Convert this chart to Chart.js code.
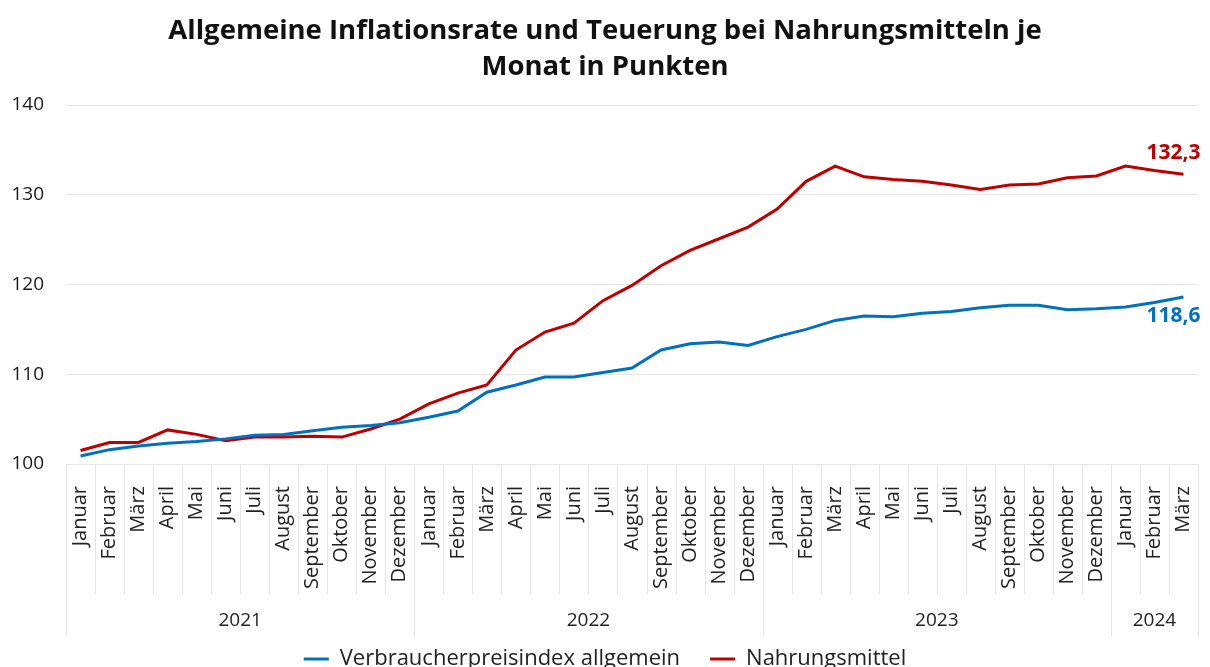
<!DOCTYPE html>
<html lang="de">
<head>
<meta charset="utf-8">
<script src="https://cdn.jsdelivr.net/npm/chart.js@4.4.1/dist/chart.umd.min.js"></script>
<style>
  html, body { margin: 0; padding: 0; background: #fff; overflow: hidden; }
  #wrap { width: 1210px; height: 680px; }
</style>
</head>
<body>
<div id="wrap"><canvas id="chart"></canvas></div>
<script>
const monthNames = ['Januar', 'Februar', 'März', 'April', 'Mai', 'Juni', 'Juli',
    'August', 'September', 'Oktober', 'November', 'Dezember'];
const years = ['2021', '2022', '2023', '2024'];
const monthsPerYear = [12, 12, 12, 3];

// Verbraucherpreisindex allgemein, Jan 2021 - Mär 2024
const vpi = [100.9, 101.6, 102.0, 102.3, 102.5, 102.8, 103.2, 103.3, 103.7, 104.1, 104.3, 104.6,
    105.2, 105.9, 108.0, 108.8, 109.7, 109.7, 110.2, 110.7, 112.7, 113.4, 113.6, 113.2,
    114.2, 115.0, 116.0, 116.5, 116.4, 116.8, 117.0, 117.4, 117.7, 117.7, 117.2, 117.3,
    117.5, 118.0, 118.6];
// Nahrungsmittel
const food = [101.5, 102.4, 102.4, 103.8, 103.3, 102.6, 103.0, 103.0, 103.1, 103.0, 103.9, 105.0,
    106.7, 107.9, 108.8, 112.7, 114.7, 115.7, 118.2, 119.9, 122.1, 123.8, 125.1, 126.4,
    128.4, 131.5, 133.2, 132.0, 131.7, 131.5, 131.1, 130.6, 131.1, 131.2, 131.9, 132.1,
    133.2, 132.7, 132.3];

const labels = [];
monthsPerYear.forEach(n => labels.push(...monthNames.slice(0, n)));

const FONT = '"Open Sans", "Noto Sans", sans-serif';
const labelOffsets = [19, -21];

// value labels at the last point of each line
const endLabels = {
    id: 'endLabels',
    afterDatasetsDraw(chart) {
        const ctx = chart.ctx;
        chart.data.datasets.forEach((ds, i) => {
            const meta = chart.getDatasetMeta(i);
            const pt = meta.data[meta.data.length - 1];
            const v = ds.data[ds.data.length - 1];
            ctx.save();
            ctx.font = 'bold 21px ' + FONT;
            ctx.fillStyle = ds.borderColor;
            ctx.textAlign = 'right';
            ctx.textBaseline = 'middle';
            ctx.fillText(v.toFixed(1).replace('.', ','), pt.x + 17, pt.y + labelOffsets[i]);
            ctx.restore();
        });
    }
};

// month separators + year row under the month labels
const yearAxis = {
    id: 'yearAxis',
    afterDraw(chart) {
        const x = chart.scales.x;
        const ctx = chart.ctx;
        const top = chart.chartArea.bottom;
        const half = (x.getPixelForValue(1) - x.getPixelForValue(0)) / 2;
        ctx.save();
        ctx.strokeStyle = '#e4e4e4';
        ctx.lineWidth = 1;
        let start = 0;
        const yearStarts = [0];
        monthsPerYear.forEach(n => { start += n; yearStarts.push(start); });
        for (let i = 0; i <= labels.length; i++) {
            const px = Math.round(x.getPixelForValue(i) - half) + 0.5;
            const isYear = yearStarts.includes(i);
            ctx.beginPath();
            ctx.moveTo(px, top);
            ctx.lineTo(px, isYear ? top + 172 : top + 130);
            ctx.stroke();
        }
        ctx.font = '19px ' + FONT;
        ctx.fillStyle = '#222';
        ctx.textAlign = 'center';
        ctx.textBaseline = 'middle';
        years.forEach((y, k) => {
            const a = x.getPixelForValue(yearStarts[k]) - half;
            const b = x.getPixelForValue(yearStarts[k + 1] - 1) + half;
            ctx.fillText(y, (a + b) / 2, top + 157);
        });
        ctx.restore();
    }
};

new Chart(document.getElementById('chart'), {
    type: 'line',
    data: {
        labels: labels,
        datasets: [{
            label: 'Verbraucherpreisindex allgemein',
            data: vpi,
            borderColor: '#0070c0',
            backgroundColor: '#0070c0',
            borderWidth: 3,
            pointRadius: 0,
            tension: 0
        }, {
            label: 'Nahrungsmittel',
            data: food,
            borderColor: '#c00000',
            backgroundColor: '#c00000',
            borderWidth: 3,
            pointRadius: 0,
            tension: 0
        }]
    },
    options: {
        responsive: true,
        maintainAspectRatio: false,
        animation: false,
        layout: { padding: 0 },
        plugins: {
            title: {
                display: true,
                text: ['Allgemeine Inflationsrate und Teuerung bei Nahrungsmitteln je', 'Monat in Punkten'],
                color: '#111',
                font: { family: FONT, size: 27.5, weight: 'bold', lineHeight: 1.31 },
                padding: { top: 13, bottom: 20 }
            },
            legend: {
                position: 'bottom',
                labels: {
                    color: '#222',
                    font: { family: FONT, size: 22 },
                    boxWidth: 25,
                    boxHeight: 3,
                    padding: 30,
                    generateLabels(chart) {
                        return Chart.defaults.plugins.legend.labels.generateLabels(chart)
                            .map(l => Object.assign(l, { lineWidth: 0 }));
                    }
                }
            },
            tooltip: { enabled: false }
        },
        scales: {
            x: {
                offset: true,
                grid: { display: false },
                border: { display: false },
                ticks: {
                    autoSkip: false,
                    maxRotation: 90,
                    minRotation: 90,
                    color: '#222',
                    padding: 14,
                    font: { family: FONT, size: 20 }
                },
                afterFit(s) {
                    s.height = 154;
                    s.paddingLeft = 0;
                    s.paddingRight = 12;
                }
            },
            y: {
                min: 100,
                max: 140,
                grid: { color: '#e6e6e6', drawTicks: false },
                border: { display: false },
                ticks: {
                    stepSize: 10,
                    color: '#1a1a1a',
                    padding: 22,
                    font: { family: FONT, size: 19 }
                },
                afterFit(s) { s.width = 66; }
            }
        }
    },
    plugins: [endLabels, yearAxis]
});
</script>
</body>
</html>
